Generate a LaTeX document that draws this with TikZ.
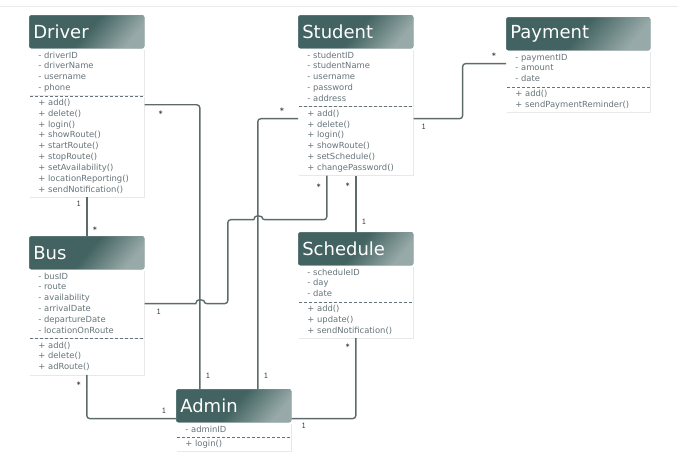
\documentclass[tikz,border=0pt]{standalone}
\usepackage{fontspec}
\setmainfont{DejaVu Sans}
\usepackage{xcolor}
\usetikzlibrary{positioning, calc, shadows}

\definecolor{hdrclr}{HTML}{426361}
\definecolor{txtclr}{HTML}{66747A}
\definecolor{lineclr}{HTML}{5E6B6B}

\begin{document}
\begin{tikzpicture}[
    x=1pt, y=1pt,
    line width=0.6pt,
    node distance=0pt,
    head/.style={
      rectangle,
      rounded corners=2pt,
      fill=hdrclr,
      path picture={
        \shade[top color=hdrclr, bottom color=hdrclr!55!white, middle color=hdrclr, shading angle=50]
          (path picture bounding box.north west) rectangle (path picture bounding box.south east);
      },
      text=white,
      font=\fontsize{18}{20}\selectfont,
      align=left,
      inner xsep=4pt,
      minimum height=33pt,
      anchor=north west
    },
    part/.style={
      rectangle,
      fill=white,
      drop shadow={opacity=0.18, shadow xshift=0.8pt, shadow yshift=-1pt},
      text=txtclr,
      font=\fontsize{8.4}{10.9}\selectfont,
      align=left,
      inner xsep=9pt,
      inner ysep=1.5pt,
      execute at begin node=\strut,
      execute at end node=\strut
    },
    sep/.style={
      draw=txtclr,
      densely dashed,
      line width=0.5pt
    },
    link/.style={
      draw=lineclr,
      line width=1.4pt,
      rounded corners=3pt
    },
    mult/.style={
      font=\fontsize{9}{10}\ttfamily,
      text=black!75,
      inner sep=1pt
    }
]

\useasboundingbox (0,0) rectangle (678,-454);
\draw[black!8, line width=1pt] (0,-7) -- (678,-7);

% 1. CLASSES
\node[head, text width=107pt] (driverH) at (29,-15) {Driver};
\node[part, text width=97pt, below=of driverH] (driverA)
  {- driverID\\- driverName\\- username\\- phone};
\node[part, text width=97pt, below=of driverA] (driverO)
  {+ add()\\+ delete()\\+ login()\\+ showRoute()\\+ startRoute()\\+ stopRoute()\\+ setAvailability()\\+ locationReporting()\\+ sendNotification()};

\node[head, text width=107pt] (studentH) at (298,-15) {Student};
\node[part, text width=97pt, below=of studentH] (studentA)
  {- studentID\\- studentName\\- username\\- password\\- address};
\node[part, text width=97pt, below=of studentA] (studentO)
  {+ add()\\+ delete()\\+ login()\\+ showRoute()\\+ setSchedule()\\+ changePassword()};

\node[head, text width=136pt] (paymentH) at (506,-17) {Payment};
\node[part, text width=126pt, below=of paymentH] (paymentA)
  {- paymentID\\- amount\\- date};
\node[part, text width=126pt, below=of paymentA] (paymentO)
  {+ add()\\+ sendPaymentReminder()};

\node[head, text width=107pt] (busH) at (29,-236) {Bus};
\node[part, text width=97pt, below=of busH] (busA)
  {- busID\\- route\\- availability\\- arrivalDate\\- departureDate\\- locationOnRoute};
\node[part, text width=97pt, below=of busA] (busO)
  {+ add()\\+ delete()\\+ adRoute()};

\node[head, text width=107pt] (scheduleH) at (298,-232) {Schedule};
\node[part, text width=97pt, below=of scheduleH] (scheduleA)
  {- scheduleID\\- day\\- date};
\node[part, text width=97pt, below=of scheduleA] (scheduleO)
  {+ add()\\+ update()\\+ sendNotification()};

\node[head, text width=107pt] (adminH) at (176,-389) {Admin};
\node[part, text width=97pt, below=of adminH] (adminA)
  {- adminID};
\node[part, text width=97pt, below=of adminA] (adminO)
  {+ login()};

% dashed separators
\foreach \cls in {driver, student, payment, bus, schedule, admin}
  \draw[sep] ([xshift=1pt]\cls A.south west) -- ([xshift=-1pt]\cls A.south east);

% 2. CONNECTORS
\coordinate (jA) at ([xshift=-34pt]adminH.north);
\coordinate (jB) at ([xshift=24pt]adminH.north);

\draw[link] (driverO.south) node[mult, below left=2pt and 4pt] {1}
  -- (driverO.south |- busH.north) node[mult, above right=3pt and 4pt] {*};

\draw[link] ([yshift=-9pt]driverO.north east) node[mult, below right=4pt and 12pt] {*}
  -| (jA) node[mult, above right=9pt and 4pt] {1};

\draw[link] ([yshift=-12pt]studentO.north west) node[mult, above left=4pt and 12pt] {*}
  -| (jB) node[mult, above right=9pt and 4pt] {1};

\draw[link] ([yshift=-12pt]studentO.north east) node[mult, below right=4pt and 6pt] {1}
  -- ++(49pt,0) |- ([yshift=-13pt]paymentA.north west) node[mult, above left=4pt and 8pt] {*};

\draw[link] ([xshift=-29pt]studentO.south) node[mult, below left=6pt and 4pt] {*}
  -- ++(0,-44pt) coordinate (sbBend)
  -- ([xshift=4pt]jB |- sbBend) [sharp corners]
  arc[start angle=0, end angle=180, radius=4pt] [rounded corners=3pt]
  -- ([xshift=-30pt]jB |- sbBend)
  -- ([xshift=-30pt,yshift=-34pt]jB |- busA.north)
  -- ([xshift=4pt,yshift=-34pt]jA |- busA.north) [sharp corners]
  arc[start angle=0, end angle=180, radius=4pt]
  -- ([yshift=-34pt]busA.north east) node[mult, below right=4pt and 10pt] {1};

\draw[link] (studentO.south) node[mult, below left=5pt and 4pt] {*}
  -- (scheduleH.north) node[mult, above right=6pt and 4pt] {1};

\draw[link] (busO.south) node[mult, below left=5pt and 4pt] {*}
  |- ([yshift=4pt]adminH.south west) node[mult, above left=3pt and 8pt] {1};

\draw[link] (scheduleO.south) node[mult, below left=4pt and 4pt] {*}
  |- ([yshift=4pt]adminH.south east) node[mult, below right=3pt and 8pt] {1};

\end{tikzpicture}
\end{document}
